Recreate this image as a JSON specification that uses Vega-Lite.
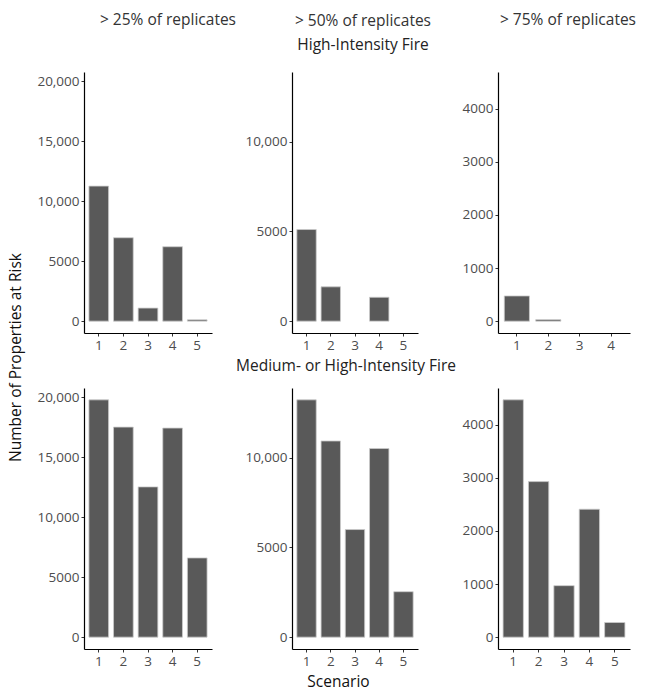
{
  "$schema": "https://vega.github.io/schema/vega-lite/v6.json",
  "padding": {"left": 8, "top": 13, "right": 5, "bottom": 2},
  "background": "white",
  "datasets": {
    "fire": [
      {"threshold": "25", "intensity": "High", "scenario": 1, "properties": 11250},
      {"threshold": "25", "intensity": "High", "scenario": 2, "properties": 6950},
      {"threshold": "25", "intensity": "High", "scenario": 3, "properties": 1090},
      {"threshold": "25", "intensity": "High", "scenario": 4, "properties": 6200},
      {"threshold": "25", "intensity": "High", "scenario": 5, "properties": 110},
      {"threshold": "25", "intensity": "MedHigh", "scenario": 1, "properties": 19770},
      {"threshold": "25", "intensity": "MedHigh", "scenario": 2, "properties": 17500},
      {"threshold": "25", "intensity": "MedHigh", "scenario": 3, "properties": 12520},
      {"threshold": "25", "intensity": "MedHigh", "scenario": 4, "properties": 17420},
      {"threshold": "25", "intensity": "MedHigh", "scenario": 5, "properties": 6600},
      {"threshold": "50", "intensity": "High", "scenario": 1, "properties": 5100},
      {"threshold": "50", "intensity": "High", "scenario": 2, "properties": 1910},
      {"threshold": "50", "intensity": "High", "scenario": 4, "properties": 1330},
      {"threshold": "50", "intensity": "MedHigh", "scenario": 1, "properties": 13210},
      {"threshold": "50", "intensity": "MedHigh", "scenario": 2, "properties": 10920},
      {"threshold": "50", "intensity": "MedHigh", "scenario": 3, "properties": 5990},
      {"threshold": "50", "intensity": "MedHigh", "scenario": 4, "properties": 10500},
      {"threshold": "50", "intensity": "MedHigh", "scenario": 5, "properties": 2530},
      {"threshold": "75", "intensity": "High", "scenario": 1, "properties": 475},
      {"threshold": "75", "intensity": "High", "scenario": 2, "properties": 28},
      {"threshold": "75", "intensity": "MedHigh", "scenario": 1, "properties": 4470},
      {"threshold": "75", "intensity": "MedHigh", "scenario": 2, "properties": 2930},
      {"threshold": "75", "intensity": "MedHigh", "scenario": 3, "properties": 970},
      {"threshold": "75", "intensity": "MedHigh", "scenario": 4, "properties": 2410},
      {"threshold": "75", "intensity": "MedHigh", "scenario": 5, "properties": 276}
    ]
  },
  "columns": 3,
  "spacing": {"row": 55, "column": 80},
  "bounds": "flush",
  "align": "each",
  "concat": [
    {
      "width": 128, "height": 261,
      "data": {"name": "fire"},
      "transform": [{"filter": "datum.threshold == '25' && datum.intensity == 'High'"}],
      "title": {"text": "> 25% of replicates", "anchor": "middle", "frame": "group", "dx": 20, "offset": 31.5, "baseline": "alphabetic"},
      "mark": {"type": "bar", "fill": "#595959", "stroke": "#cccccc", "strokeWidth": 0.8},
      "encoding": {
        "x": {"field": "scenario", "type": "ordinal", "scale": {"domain": [1, 2, 3, 4, 5], "paddingInner": 0.2, "paddingOuter": 0.2}, "axis": {"labelAngle": 0, "title": null}},
        "y": {"field": "properties", "type": "quantitative", "scale": {"domain": [-989, 20759], "nice": false}, "axis": {"values": [0, 5000, 10000, 15000, 20000], "labelExpr": "datum.value >= 10000 ? format(datum.value, ',') : format(datum.value, 'd')", "title": null}}
      }
    },
    {
      "width": 126, "height": 261,
      "data": {"name": "fire"},
      "transform": [{"filter": "datum.threshold == '50' && datum.intensity == 'High'"}],
      "title": {"text": "> 50% of replicates", "subtitle": "High-Intensity Fire", "anchor": "middle", "frame": "group", "dx": 8, "offset": 6.5, "baseline": "alphabetic"},
      "mark": {"type": "bar", "fill": "#595959", "stroke": "#cccccc", "strokeWidth": 0.8},
      "encoding": {
        "x": {"field": "scenario", "type": "ordinal", "scale": {"domain": [1, 2, 3, 4, 5], "paddingInner": 0.2, "paddingOuter": 0.2}, "axis": {"labelAngle": 0, "title": null}},
        "y": {"field": "properties", "type": "quantitative", "scale": {"domain": [-660, 13870], "nice": false}, "axis": {"values": [0, 5000, 10000], "labelExpr": "datum.value >= 10000 ? format(datum.value, ',') : format(datum.value, 'd')", "title": null}}
      }
    },
    {
      "width": 132, "height": 261,
      "data": {"name": "fire"},
      "transform": [{"filter": "datum.threshold == '75' && datum.intensity == 'High'"}],
      "title": {"text": "> 75% of replicates", "anchor": "middle", "frame": "group", "dx": 4, "offset": 31.5, "baseline": "alphabetic"},
      "mark": {"type": "bar", "fill": "#595959", "stroke": "#cccccc", "strokeWidth": 0.8},
      "encoding": {
        "x": {"field": "scenario", "type": "ordinal", "scale": {"domain": [1, 2, 3, 4], "paddingInner": 0.2, "paddingOuter": 0.2}, "axis": {"labelAngle": 0, "title": null}},
        "y": {"field": "properties", "type": "quantitative", "scale": {"domain": [-223, 4693], "nice": false}, "axis": {"values": [0, 1000, 2000, 3000, 4000], "labelExpr": "datum.value >= 10000 ? format(datum.value, ',') : format(datum.value, 'd')", "title": null}}
      }
    },
    {
      "width": 128, "height": 261,
      "data": {"name": "fire"},
      "transform": [{"filter": "datum.threshold == '25' && datum.intensity == 'MedHigh'"}],
      "mark": {"type": "bar", "fill": "#595959", "stroke": "#cccccc", "strokeWidth": 0.8},
      "encoding": {
        "x": {"field": "scenario", "type": "ordinal", "scale": {"domain": [1, 2, 3, 4, 5], "paddingInner": 0.2, "paddingOuter": 0.2}, "axis": {"labelAngle": 0, "title": null}},
        "y": {"field": "properties", "type": "quantitative", "scale": {"domain": [-989, 20759], "nice": false}, "axis": {"values": [0, 5000, 10000, 15000, 20000], "labelExpr": "datum.value >= 10000 ? format(datum.value, ',') : format(datum.value, 'd')", "title": "Number of Properties at Risk", "titleAnchor": null, "titleX": -64, "titleY": -31, "titleAngle": -90, "titleAlign": "center", "titleBaseline": "alphabetic"}}
      }
    },
    {
      "width": 126, "height": 261,
      "data": {"name": "fire"},
      "transform": [{"filter": "datum.threshold == '50' && datum.intensity == 'MedHigh'"}],
      "title": {"text": "Medium- or High-Intensity Fire", "anchor": "middle", "frame": "group", "dx": -9, "offset": 2, "baseline": "alphabetic", "color": "#222222"},
      "mark": {"type": "bar", "fill": "#595959", "stroke": "#cccccc", "strokeWidth": 0.8},
      "encoding": {
        "x": {"field": "scenario", "type": "ordinal", "scale": {"domain": [1, 2, 3, 4, 5], "paddingInner": 0.2, "paddingOuter": 0.2}, "axis": {"labelAngle": 0, "title": "Scenario", "titleAnchor": null, "titleX": 46, "titleY": 37, "titleAlign": "center", "titleBaseline": "alphabetic"}},
        "y": {"field": "properties", "type": "quantitative", "scale": {"domain": [-660, 13870], "nice": false}, "axis": {"values": [0, 5000, 10000], "labelExpr": "datum.value >= 10000 ? format(datum.value, ',') : format(datum.value, 'd')", "title": null}}
      }
    },
    {
      "width": 132, "height": 261,
      "data": {"name": "fire"},
      "transform": [{"filter": "datum.threshold == '75' && datum.intensity == 'MedHigh'"}],
      "mark": {"type": "bar", "fill": "#595959", "stroke": "#cccccc", "strokeWidth": 0.8},
      "encoding": {
        "x": {"field": "scenario", "type": "ordinal", "scale": {"domain": [1, 2, 3, 4, 5], "paddingInner": 0.2, "paddingOuter": 0.2}, "axis": {"labelAngle": 0, "title": null}},
        "y": {"field": "properties", "type": "quantitative", "scale": {"domain": [-223, 4693], "nice": false}, "axis": {"values": [0, 1000, 2000, 3000, 4000], "labelExpr": "datum.value >= 10000 ? format(datum.value, ',') : format(datum.value, 'd')", "title": null}}
      }
    }
  ],
  "config": {
    "view": {"stroke": null},
    "font": "Open Sans",
    "axis": {
      "grid": false,
      "domainColor": "#000000",
      "domainWidth": 1.2,
      "tickColor": "#333333",
      "tickSize": 3,
      "tickWidth": 1,
      "labelColor": "#4d4d4d",
      "labelFont": "Open Sans",
      "labelFontSize": 13.5,
      "labelPadding": 2,
      "titleFont": "Open Sans",
      "titleFontSize": 15.5,
      "titleFontWeight": "normal",
      "titleColor": "#111111"
    },
    "title": {
      "font": "Open Sans",
      "fontSize": 15.5,
      "fontWeight": "normal",
      "color": "#333333",
      "subtitleFont": "Open Sans",
      "subtitleFontSize": 15.5,
      "subtitleColor": "#222222",
      "subtitlePadding": 9
    }
  }
}
